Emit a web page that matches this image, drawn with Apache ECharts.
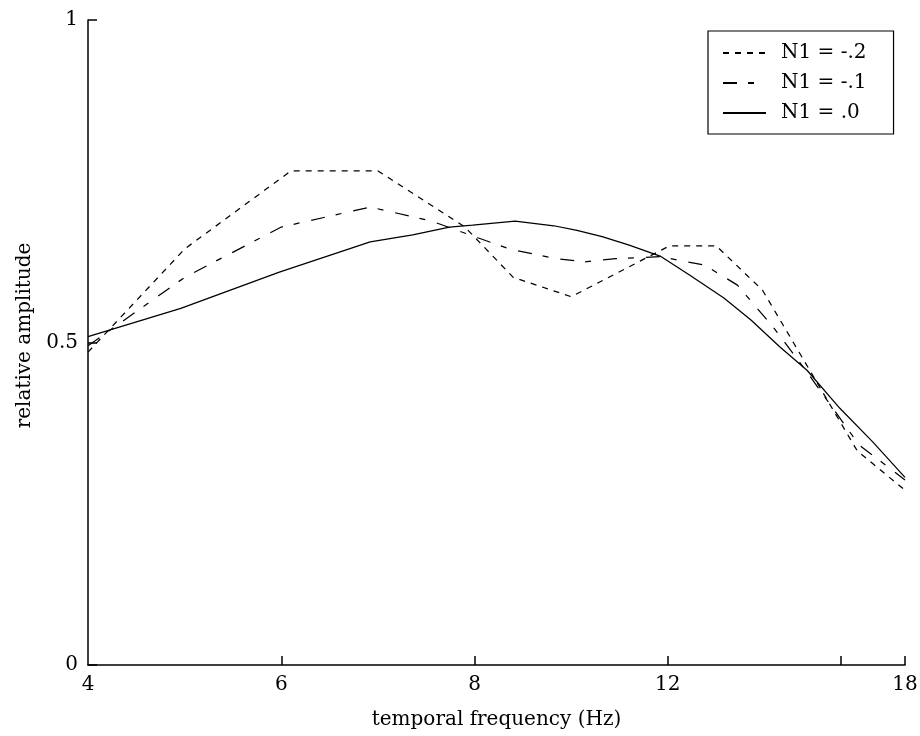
<!DOCTYPE html>
<html>
<head>
<meta charset="utf-8">
<script src="https://cdn.jsdelivr.net/npm/echarts@6/dist/echarts.min.js"></script>
<style>
  html, body { margin: 0; padding: 0; background: #fff; }
  #chart { width: 920px; height: 736px; }
</style>
</head>
<body>
<div id="chart"></div>
<script>
// The horizontal axis is laid out in tick slots: 4, 6, 8 and 12 Hz sit one
// slot apart and the axis ends at the 18 Hz label.
const tickSlots  = [0, 1, 2, 3, 4.227];
const tickLabels = ['4', '6', '8', '12', '18'];
const markSlots  = [1, 2, 3, 3.895, 4.227];
const slotMax    = 4.227;

const seriesNames = ['N1 = -.2', 'N1 = -.1', 'N1 = .0'];

// N1 = -.2
const n1m2Slot = [0, 0.50, 1.05, 1.50, 1.95, 2.20, 2.50, 3.01, 3.25, 3.49, 3.98, 4.227];
const n1m2Amp  = [0.485, 0.645, 0.766, 0.766, 0.679, 0.601, 0.571, 0.650, 0.650, 0.581, 0.332, 0.271];

// N1 = -.1
const n1m1Slot = [0, 0.50, 1.00, 1.46, 1.78, 2.02, 2.18, 2.42, 2.57, 2.73, 2.96, 3.19, 3.36, 3.55, 3.72, 3.99, 4.227];
const n1m1Amp  = [0.495, 0.601, 0.679, 0.710, 0.688, 0.662, 0.645, 0.630, 0.625, 0.630, 0.633, 0.620, 0.589, 0.522, 0.454, 0.341, 0.287];

// N1 = .0
const n10Slot = [0, 0.48, 0.99, 1.46, 1.68, 1.87, 1.99, 2.21, 2.41, 2.53, 2.66, 2.80, 2.96, 3.11, 3.29, 3.43, 3.58, 3.72, 3.89, 4.06, 4.227];
const n10Amp  = [0.509, 0.553, 0.609, 0.656, 0.667, 0.679, 0.682, 0.688, 0.681, 0.674, 0.664, 0.651, 0.634, 0.605, 0.569, 0.535, 0.493, 0.457, 0.398, 0.346, 0.291];

const FONT = 'DejaVu Serif';

function pairs(xs, ys) { return xs.map((x, i) => [x, ys[i]]); }

function lineSeries(name, xs, ys, dash) {
  return {
    name: name,
    type: 'line',
    data: pairs(xs, ys),
    symbol: 'none',
    smooth: false,
    animation: false,
    color: '#000',
    itemStyle: { color: '#000' },
    lineStyle: { color: '#000', width: 1.25, type: dash }
  };
}

const chart = echarts.init(document.getElementById('chart'), null, { renderer: 'canvas' });

chart.setOption({
  backgroundColor: '#fff',
  animation: false,
  grid: { left: 88, right: 15, top: 20, bottom: 71, containLabel: false, outerBoundsMode: 'none' },
  legend: {
    orient: 'vertical',
    left: 708,
    top: 31,
    data: seriesNames,
    itemWidth: 43,
    itemHeight: 14,
    itemGap: 10,
    padding: [12, 27, 11, 14],
    borderColor: '#000',
    borderWidth: 1.2,
    backgroundColor: '#fff',
    itemStyle: { opacity: 0 },
    textStyle: { fontFamily: FONT, fontSize: 20, color: '#000', padding: [0, 0, 0, 10] }
  },
  xAxis: {
    type: 'value',
    min: 0,
    max: slotMax,
    name: 'temporal frequency (Hz)',
    nameLocation: 'middle',
    nameGap: 45,
    nameTextStyle: { fontFamily: FONT, fontSize: 20, color: '#000' },
    axisLine: { show: true, lineStyle: { color: '#000', width: 1.5 } },
    axisTick: { show: true, inside: true, length: 9, customValues: markSlots, lineStyle: { color: '#000', width: 1.5 } },
    axisLabel: {
      show: true,
      customValues: tickSlots,
      margin: 10,
      fontFamily: FONT, fontSize: 20, color: '#000',
      formatter: function (v) {
        let best = 0;
        tickSlots.forEach((s, i) => { if (Math.abs(s - v) < Math.abs(tickSlots[best] - v)) best = i; });
        return tickLabels[best];
      }
    },
    splitLine: { show: false }
  },
  yAxis: {
    type: 'value',
    min: 0,
    max: 1,
    interval: 0.5,
    name: 'relative amplitude',
    nameLocation: 'middle',
    nameGap: 50,
    nameTextStyle: { fontFamily: FONT, fontSize: 20, color: '#000', padding: [0, 0, 0, 14] },
    axisLine: { show: true, lineStyle: { color: '#000', width: 1.5 } },
    axisTick: { show: true, inside: true, length: 9, lineStyle: { color: '#000', width: 1.5 } },
    axisLabel: { margin: 10, fontFamily: FONT, fontSize: 20, color: '#000' },
    splitLine: { show: false }
  },
  series: [
    lineSeries(seriesNames[0], n1m2Slot, n1m2Amp, [6, 6]),
    lineSeries(seriesNames[1], n1m1Slot, n1m1Amp, [14, 11, 6, 12]),
    lineSeries(seriesNames[2], n10Slot, n10Amp, 'solid')
  ]
});
</script>
</body>
</html>
